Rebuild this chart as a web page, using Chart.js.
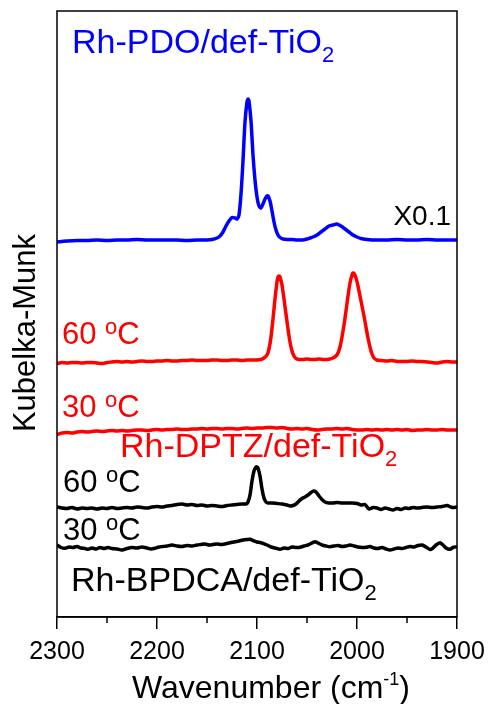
<!DOCTYPE html>
<html>
<head>
<meta charset="utf-8">
<script src="https://cdn.jsdelivr.net/npm/chart.js@4.4.1/dist/chart.umd.min.js"></script>
<style>
  html, body { margin: 0; padding: 0; background: #fff; }
  #wrap { width: 489px; height: 704px; }
</style>
</head>
<body>
<div id="wrap"><canvas id="chart"></canvas></div>
<script>
// x ticks (wavenumber, cm-1)
const majorTicks = [2300, 2200, 2100, 2000, 1900];
const minorTicks = [2250, 2150, 2050, 1950];

// Rh-PDO/def-TiO2 (x0.1), offset trace
const pdoX = [2300,2295,2290,2280,2270,2260,2250,2240,2230,2220,2210,2200,2190,2180,2170,2160,2150,2145,2140,2137,2134,2131,2128,2125,2122,2120,2118,2116,2114,2112,2110,2109,2108,2106,2104,2102,2100,2098,2096,2094,2092,2090,2089,2087,2085,2083,2081,2079,2077,2074,2070,2065,2060,2055,2050,2047,2044,2040,2036,2032,2028,2024,2020,2016,2012,2008,2004,2000,1996,1990,1985,1980,1970,1960,1950,1940,1930,1920,1910,1900];
const pdoY = [375,375.5,376,376.5,376.5,377,376.5,377,377,377.5,377,377,377,377,376.5,377,377,377.5,379,381,385,391,396,399.5,399,398,402,423,456,495,515,518,516,496,462,437,420,411,409,413,418,421,421,416,406,395,387,382,379.5,378,377.5,377.5,377,377,378,379,380,382,385,388,391,392,393,391,388,385,382,380,378.5,377.5,377,377,377,377.5,377,377,377.5,377,377,377];

// Rh-DPTZ/def-TiO2, 60 C
const dptz60X = [2300,2295,2290,2285,2280,2275,2270,2265,2260,2255,2250,2245,2240,2235,2230,2225,2220,2215,2210,2205,2200,2195,2190,2185,2180,2175,2170,2165,2160,2155,2150,2145,2140,2135,2130,2125,2120,2115,2110,2105,2100,2096,2093,2090,2088,2086,2084,2082,2080,2079,2078,2077,2075,2073,2071,2069,2067,2065,2063,2061,2058,2054,2050,2046,2042,2038,2034,2030,2027,2024,2021,2019,2017,2015,2013,2011,2009,2007,2005,2004,2003,2001,1999,1997,1995,1993,1991,1989,1987,1985,1983,1980,1975,1970,1965,1960,1955,1950,1945,1940,1935,1930,1925,1920,1915,1910,1905,1900];
const dptz60Y = [253.5,254.5,254,254.5,254.5,254,254.5,254.5,254,253.5,254.5,255,255.5,255,255.5,255,255.5,256,255.5,255.5,256,256,256.5,256,256,256.5,256.5,257,256.5,256.5,256.5,257,257,256.5,256.5,257,257,256.5,257,257,257,257.5,259,262,268,280,298,318,335,340,341,340,332,318,303,288,275,266,261,258.5,257.5,257.5,258,257.5,257.5,258,257.5,257.5,258,259,261,264,270,280,292,306,321,334,342,344,343.5,339,331,321,311,301,290,279,270,263,259,257,256.5,256,256.5,255.5,255.5,255.5,256,255.5,255.5,255,254.5,254,255,255.5,255,255];

// Rh-DPTZ/def-TiO2, 30 C
const dptz30X = [2300,2295,2290,2285,2280,2275,2270,2265,2260,2255,2250,2245,2240,2235,2230,2225,2220,2215,2210,2205,2200,2195,2190,2185,2180,2175,2170,2165,2160,2155,2150,2145,2140,2135,2130,2125,2120,2115,2110,2105,2100,2095,2090,2085,2080,2075,2070,2065,2060,2055,2050,2045,2040,2035,2030,2025,2020,2015,2010,2005,2000,1995,1990,1985,1980,1975,1970,1965,1960,1955,1950,1945,1940,1935,1930,1925,1920,1915,1910,1905,1900];
const dptz30Y = [182.5,184,184.5,184,185,185.5,185,185.5,186,185.5,186,186.5,186,186.5,186,186.5,187,187,186.5,187,187.5,187,187.5,187.5,188,187.5,187.5,188,188,188.5,188,188.5,188.5,188,188.5,188.5,188,188.5,189,188.5,189,189,189.5,189.5,189,189.5,188.5,188,188.5,188,188.5,187.5,187,187.5,188,188,188.5,188,188.5,187.5,187,187,187.5,187,187.5,187,187.5,187,187.5,187,187.5,186.5,187,187,187.5,187,187,187.5,187,187,187];

// Rh-BPDCA/def-TiO2, 60 C
const bpdca60X = [2300,2295,2290,2285,2280,2275,2270,2265,2260,2255,2250,2245,2240,2235,2230,2225,2220,2215,2210,2205,2200,2195,2190,2185,2180,2175,2170,2165,2160,2155,2150,2145,2140,2135,2130,2125,2120,2115,2111,2109,2107,2105,2103,2101,2100,2099,2097,2095,2093,2091,2089,2085,2080,2075,2070,2067,2064,2061,2058,2055,2052,2049,2046,2043.5,2041,2038,2035,2032,2028,2024,2020,2015,2010,2005,2000,1996,1992,1988,1984,1980,1976,1972,1968,1964,1960,1956,1952,1948,1944,1940,1935,1930,1925,1920,1915,1910,1905,1900];
const bpdca60Y = [110,109,108.5,109.5,108,109,108.5,109,108,109,108.5,109.5,108.5,109,109.5,109,110,109.5,109,110,110.5,110,111,111.5,112.5,113,112,112.5,111.5,112,111,111.5,111,110.5,111.5,112,112.5,113,113,115,122,136,146,150,150,149,141,128,119,115,114,114,113.5,113,112,111,111.5,113,116,118.5,120,122,124.5,126,125,121,117.5,115,114,114,114.5,114,114,114,113.5,112,112.5,108,109.5,109,107.5,109,108,107,108.5,107.5,109,108.5,109.5,109,109.5,110,109.5,110,110.5,111.5,109.5,110];

// Rh-BPDCA/def-TiO2, 30 C
const bpdca30X = [2300,2296,2292,2288,2284,2280,2276,2272,2269,2265,2261,2257,2253,2249,2245,2240,2235,2230,2225,2220,2215,2210,2206,2202,2198,2194,2190,2185,2180,2175,2170,2165,2160,2156,2152,2148,2144,2140,2135,2130,2126,2122,2118,2114,2110,2107,2104,2100,2097,2094,2090,2086,2082,2077,2073,2069,2065,2061,2057,2053,2049,2045,2042,2039,2035,2031,2027,2023,2019,2015,2011,2007,2003,1999,1995,1991,1987,1983,1979,1975,1971,1967,1963,1959,1955,1951,1947,1943,1939,1935,1931,1927,1924,1921,1917,1914,1911,1907,1904,1900];
const bpdca30Y = [72,69.5,68.7,70,69.5,70.5,69,68.5,67.7,69,68,69.5,68.5,69.5,68.5,68,67,68.5,69.5,69,70,69,68,68.7,70,70.5,71,72,71,70.5,71.5,71,72,72.5,73,72,72.5,73,72.5,73.5,74.5,75.3,76,77,77.5,77.7,76.5,75,74.5,73.7,72,70,69,67.7,69,68.5,70,69.5,69.7,71,72,74,75.3,74,72,71,70.3,71,71.5,70.5,71,72,71,70,69.5,69.7,70.5,69,68.5,69.5,68,67,68,69,68.5,69.5,70.5,70,71.5,72,70,67.5,69,72,74.3,72,69,67.7,69.5,70.3];

const BLUE = '#0000ff';
const RED = '#ff0000';
const BLACK = '#000000';
const FONT = '"Liberation Sans", Arial, sans-serif';

function pts(xs, ys) {
  return xs.map((x, i) => ({ x: x, y: ys[i] }));
}

function line(xs, ys, color) {
  return {
    data: pts(xs, ys),
    borderColor: color,
    borderWidth: 3.5,
    pointRadius: 0,
    tension: 0.25,
    fill: false
  };
}

// draw text made of pieces; each piece may be smaller and shifted (sub/superscript)
function richText(ctx, x, y, parts, color) {
  ctx.save();
  ctx.fillStyle = color;
  ctx.textAlign = 'left';
  ctx.textBaseline = 'alphabetic';
  let cx = x;
  parts.forEach(p => {
    ctx.font = p[1] + 'px ' + FONT;
    ctx.fillText(p[0], cx, y + (p[2] || 0));
    cx += ctx.measureText(p[0]).width;
  });
  ctx.restore();
  return cx;
}

const decor = {
  id: 'decor',
  afterDatasetsDraw(chart) {
    const ctx = chart.ctx;
    const a = chart.chartArea;
    const xs = chart.scales.x;

    // frame
    ctx.save();
    ctx.strokeStyle = BLACK;
    ctx.lineWidth = 1.5;
    ctx.strokeRect(a.left, a.top, a.right - a.left, a.bottom - a.top);

    // minor ticks
    minorTicks.forEach(v => {
      const px = xs.getPixelForValue(v);
      ctx.beginPath();
      ctx.moveTo(px, a.bottom);
      ctx.lineTo(px, a.bottom + 6);
      ctx.stroke();
    });
    ctx.restore();

    // labels
    richText(ctx, 72, 53, [['Rh-PDO/def-TiO', 34], ['2', 22, 8.5]], BLUE);
    ctx.save();
    ctx.font = '28px ' + FONT;
    ctx.fillStyle = BLACK;
    ctx.textAlign = 'right';
    ctx.fillText('X0.1', 451, 225);
    ctx.restore();

    const deg = (t) => [[t + ' ', 31], ['o', 22, -10.5], ['C', 31]];
    richText(ctx, 62, 344, deg('60'), RED);
    richText(ctx, 62, 417, deg('30'), RED);
    richText(ctx, 120, 457, [['Rh-DPTZ/def-TiO', 34], ['2', 22, 8.5]], RED);
    richText(ctx, 63, 492, deg('60'), BLACK);
    richText(ctx, 63, 540, deg('30'), BLACK);
    richText(ctx, 71, 591, [['Rh-BPDCA/def-TiO', 34], ['2', 22, 8.5]], BLACK);

    // x title
    richText(ctx, 132, 698, [['Wavenumber (cm', 32], ['-1', 18, -13], [')', 32]], BLACK);

    // y title
    ctx.save();
    ctx.translate(35, 333);
    ctx.rotate(-Math.PI / 2);
    ctx.font = '31px ' + FONT;
    ctx.fillStyle = BLACK;
    ctx.textAlign = 'center';
    ctx.textBaseline = 'alphabetic';
    ctx.fillText('Kubelka-Munk', 0, 0);
    ctx.restore();
  }
};

new Chart(document.getElementById('chart'), {
  type: 'line',
  data: {
    datasets: [
      line(pdoX, pdoY, BLUE),
      line(dptz60X, dptz60Y, RED),
      line(dptz30X, dptz30Y, RED),
      line(bpdca60X, bpdca60Y, BLACK),
      line(bpdca30X, bpdca30Y, BLACK)
    ]
  },
  options: {
    responsive: true,
    maintainAspectRatio: false,
    animation: false,
    layout: { padding: { left: 57, right: 32, top: 11, bottom: 0 } },
    plugins: { legend: { display: false }, tooltip: { enabled: false } },
    scales: {
      x: {
        type: 'linear',
        min: 1900,
        max: 2300,
        reverse: true,
        afterFit: s => { s.height = 87; s.paddingLeft = 0; s.paddingRight = 0; },
        afterBuildTicks: s => { s.ticks = majorTicks.map(v => ({ value: v })); },
        ticks: {
          color: BLACK,
          font: { size: 25, family: FONT },
          padding: 8,
          maxRotation: 0,
          callback: v => String(v)
        },
        grid: {
          drawOnChartArea: false,
          drawTicks: true,
          tickLength: 12,
          color: BLACK,
          lineWidth: 1.5
        },
        border: { display: true, color: BLACK, width: 1.5 }
      },
      y: {
        display: false,
        min: 0,
        max: 606
      }
    }
  },
  plugins: [decor]
});
</script>
</body>
</html>
